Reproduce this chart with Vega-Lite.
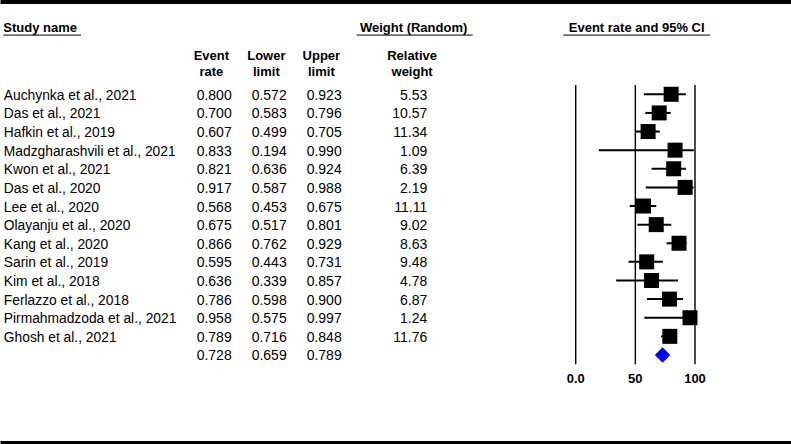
{
  "$schema": "https://vega.github.io/schema/vega-lite/v6.json",
  "width": 791,
  "height": 444,
  "padding": 0,
  "autosize": {"type": "none"},
  "background": "white",
  "config": {
    "view": {"stroke": null},
    "font": "Liberation Sans",
    "text": {"color": "#000000"}
  },
  "datasets": {
    "rows": [
      {"row": "Auchynka et al., 2021", "kind": "study", "er": 0.800, "ll": 0.572, "ul": 0.923, "wt": 5.53},
      {"row": "Das et al., 2021", "kind": "study", "er": 0.700, "ll": 0.583, "ul": 0.796, "wt": 10.57},
      {"row": "Hafkin et al., 2019", "kind": "study", "er": 0.607, "ll": 0.499, "ul": 0.705, "wt": 11.34},
      {"row": "Madzgharashvili et al., 2021", "kind": "study", "er": 0.833, "ll": 0.194, "ul": 0.990, "wt": 1.09},
      {"row": "Kwon et al., 2021", "kind": "study", "er": 0.821, "ll": 0.636, "ul": 0.924, "wt": 6.39},
      {"row": "Das et al., 2020", "kind": "study", "er": 0.917, "ll": 0.587, "ul": 0.988, "wt": 2.19},
      {"row": "Lee et al., 2020", "kind": "study", "er": 0.568, "ll": 0.453, "ul": 0.675, "wt": 11.11},
      {"row": "Olayanju et al., 2020", "kind": "study", "er": 0.675, "ll": 0.517, "ul": 0.801, "wt": 9.02},
      {"row": "Kang et al., 2020", "kind": "study", "er": 0.866, "ll": 0.762, "ul": 0.929, "wt": 8.63},
      {"row": "Sarin et al., 2019", "kind": "study", "er": 0.595, "ll": 0.443, "ul": 0.731, "wt": 9.48},
      {"row": "Kim et al., 2018", "kind": "study", "er": 0.636, "ll": 0.339, "ul": 0.857, "wt": 4.78},
      {"row": "Ferlazzo et al., 2018", "kind": "study", "er": 0.786, "ll": 0.598, "ul": 0.900, "wt": 6.87},
      {"row": "Pirmahmadzoda et al., 2021", "kind": "study", "er": 0.958, "ll": 0.575, "ul": 0.997, "wt": 1.24},
      {"row": "Ghosh et al., 2021", "kind": "study", "er": 0.789, "ll": 0.716, "ul": 0.848, "wt": 11.76},
      {"row": "sum", "kind": "summary", "er": 0.728, "ll": 0.659, "ul": 0.789, "wt": null}
    ],
    "ticks": [
      {"v": 0, "label": "0.0"},
      {"v": 0.5, "label": "50"},
      {"v": 1, "label": "100"}
    ],
    "cols": [
      {"key": "er", "head": "Event\nrate"},
      {"key": "ll", "head": "Lower\nlimit"},
      {"key": "ul", "head": "Upper\nlimit"},
      {"key": "wt", "head": "Relative\nweight"}
    ],
    "heads": [
      {"id": "study", "label": "Study name"},
      {"id": "weight", "label": "Weight (Random)"},
      {"id": "ci", "label": "Event rate and 95% CI"}
    ]
  },
  "resolve": {"scale": {"x": "independent"}, "axis": {"x": "independent"}},
  "layer": [
    {
      "layer": [
        {
          "data": {"name": "rows"},
          "transform": [{"fold": ["er", "ll", "ul"], "as": ["key", "value"]}],
          "mark": {"type": "text", "align": "right", "baseline": "middle", "fontSize": 14, "dy": 1.5},
          "encoding": {
            "x": {
              "field": "key", "type": "nominal", "bandPosition": 1,
              "scale": {"type": "band", "domain": ["c0", "c1", "c2", "er", "ll", "ul", "c6", "wt", "c8", "c9", "c10", "c11", "c12", "c13"], "paddingInner": 0, "paddingOuter": 0.191, "align": 0.557},
              "axis": {"orient": "top", "domain": true, "domainColor": "#000000", "domainWidth": 7, "ticks": false, "labels": false, "grid": false, "title": null}
            },
            "y": {
              "field": "row", "type": "nominal",
              "scale": {
                "type": "band",
                "domain": ["h0", "h1", "h2", "h3",
                  "Auchynka et al., 2021", "Das et al., 2021", "Hafkin et al., 2019", "Madzgharashvili et al., 2021",
                  "Kwon et al., 2021", "Das et al., 2020", "Lee et al., 2020", "Olayanju et al., 2020",
                  "Kang et al., 2020", "Sarin et al., 2019", "Kim et al., 2018", "Ferlazzo et al., 2018",
                  "Pirmahmadzoda et al., 2021", "Ghosh et al., 2021", "sum", "axis", "b1", "b2", "b3"],
                "paddingInner": 0, "paddingOuter": 0.423, "align": 0.667
              },
              "axis": {
                "orient": "left", "domain": false, "ticks": false, "tickSize": 0, "grid": false, "title": null,
                "labelAlign": "left", "labelPadding": -3.3, "labelFont": "Liberation Sans", "labelFontSize": 13.8,
                "labelColor": "#000000", "labelLimit": 400, "labelOverlap": false, "labelBaseline": "middle", "labelOffset": 1.5,
                "labelExpr": "indexof(['h0','h1','h2','h3','sum','axis','b1','b2','b3'], datum.value) >= 0 ? '' : datum.label"
              }
            },
            "text": {"field": "value", "type": "quantitative", "format": ".3f"}
          }
        },
        {
          "data": {"name": "rows"},
          "transform": [{"filter": "isValid(datum.wt)"}],
          "mark": {"type": "text", "align": "right", "baseline": "middle", "fontSize": 14, "dy": 1.5},
          "encoding": {
            "x": {"datum": "wt", "type": "nominal", "bandPosition": 0.556},
            "y": {"field": "row", "type": "nominal"},
            "text": {"field": "wt", "type": "quantitative", "format": ".2f"}
          }
        },
        {
          "data": {"name": "cols"},
          "transform": [{"filter": "datum.key !== 'wt'"}],
          "mark": {"type": "text", "align": "center", "baseline": "middle", "fontSize": 13, "fontWeight": "bold", "lineBreak": "\n", "lineHeight": 16},
          "encoding": {
            "x": {"field": "key", "type": "nominal", "bandPosition": 0.63},
            "y": {"datum": "h2", "type": "nominal", "bandPosition": 0.42},
            "text": {"field": "head", "type": "nominal"}
          }
        },
        {
          "data": {"name": "cols"},
          "transform": [{"filter": "datum.key === 'wt'"}],
          "mark": {"type": "text", "align": "center", "baseline": "middle", "fontSize": 13, "fontWeight": "bold", "lineBreak": "\n", "lineHeight": 16},
          "encoding": {
            "x": {"field": "key", "type": "nominal", "bandPosition": 0.28},
            "y": {"datum": "h2", "type": "nominal", "bandPosition": 0.42},
            "text": {"field": "head", "type": "nominal"}
          }
        }
      ]
    },
    {
      "layer": [
        {
          "data": {"name": "rows"},
          "transform": [{"filter": "datum.kind === 'study'"}],
          "mark": {"type": "rule", "color": "#000000", "strokeWidth": 2},
          "encoding": {
            "x": {
              "field": "ll", "type": "quantitative",
              "scale": {"domain": [-4.8257, 1.8047], "nice": false, "zero": false},
              "axis": {"orient": "bottom", "domain": true, "domainColor": "#000000", "domainWidth": 7, "ticks": false, "labels": false, "grid": false, "title": null}
            },
            "x2": {"field": "ul"},
            "y": {"field": "row", "type": "nominal"}
          }
        },
        {
          "data": {"name": "ticks"},
          "mark": {"type": "rule", "color": "#000000", "strokeWidth": 1.4},
          "encoding": {
            "x": {"field": "v", "type": "quantitative"},
            "y": {"datum": "h3", "type": "nominal", "bandPosition": 1},
            "y2": {"datum": "axis", "bandPosition": 0}
          }
        },
        {
          "data": {"name": "rows"},
          "transform": [{"filter": "datum.kind === 'study'"}],
          "mark": {"type": "square", "color": "#000000", "filled": true, "opacity": 1, "size": 225},
          "encoding": {
            "x": {"field": "er", "type": "quantitative"},
            "y": {"field": "row", "type": "nominal"}
          }
        },
        {
          "data": {"name": "rows"},
          "transform": [{"filter": "datum.kind === 'summary'"}],
          "mark": {"type": "point", "shape": "diamond", "color": "#0000ff", "filled": true, "opacity": 1, "size": 240},
          "encoding": {
            "x": {"field": "er", "type": "quantitative"},
            "y": {"field": "row", "type": "nominal"}
          }
        },
        {
          "data": {"name": "ticks"},
          "mark": {"type": "text", "align": "center", "baseline": "middle", "fontSize": 13, "fontWeight": "bold", "dy": 1},
          "encoding": {
            "x": {"field": "v", "type": "quantitative"},
            "y": {"datum": "axis", "type": "nominal", "bandPosition": 0.75},
            "text": {"field": "label", "type": "nominal"}
          }
        },
        {
          "data": {"name": "heads"},
          "transform": [{"filter": "datum.id === 'study'"}],
          "mark": {"type": "text", "align": "left", "baseline": "middle", "fontSize": 13, "fontWeight": "bold", "dy": 0.3},
          "encoding": {
            "x": {"datum": -4.798, "type": "quantitative"},
            "y": {"datum": "h0", "type": "nominal", "bandPosition": 0.95},
            "text": {"field": "label", "type": "nominal"}
          }
        },
        {
          "data": {"name": "heads"},
          "transform": [{"filter": "datum.id === 'weight'"}],
          "mark": {"type": "text", "align": "center", "baseline": "middle", "fontSize": 13, "fontWeight": "bold", "dy": 0.3},
          "encoding": {
            "x": {"datum": -1.3588, "type": "quantitative"},
            "y": {"datum": "h0", "type": "nominal", "bandPosition": 0.95},
            "text": {"field": "label", "type": "nominal"}
          }
        },
        {
          "data": {"name": "heads"},
          "transform": [{"filter": "datum.id === 'ci'"}],
          "mark": {"type": "text", "align": "center", "baseline": "middle", "fontSize": 13, "fontWeight": "bold", "dy": 0.3},
          "encoding": {
            "x": {"datum": 0.5113, "type": "quantitative"},
            "y": {"datum": "h0", "type": "nominal", "bandPosition": 0.95},
            "text": {"field": "label", "type": "nominal"}
          }
        },
        {
          "data": {"name": "heads"},
          "transform": [{"filter": "datum.id === 'study'"}],
          "mark": {"type": "rule", "color": "#000000", "strokeWidth": 1},
          "encoding": {
            "x": {"datum": -4.798, "type": "quantitative"},
            "x2": {"datum": -4.147},
            "y": {"datum": "h1", "type": "nominal", "bandPosition": 0.32}
          }
        },
        {
          "data": {"name": "heads"},
          "transform": [{"filter": "datum.id === 'weight'"}],
          "mark": {"type": "rule", "color": "#000000", "strokeWidth": 1},
          "encoding": {
            "x": {"datum": -1.8357, "type": "quantitative"},
            "x2": {"datum": -0.8634},
            "y": {"datum": "h1", "type": "nominal", "bandPosition": 0.32}
          }
        },
        {
          "data": {"name": "heads"},
          "transform": [{"filter": "datum.id === 'ci'"}],
          "mark": {"type": "rule", "color": "#000000", "strokeWidth": 1},
          "encoding": {
            "x": {"datum": -0.1039, "type": "quantitative"},
            "x2": {"datum": 1.1257},
            "y": {"datum": "h1", "type": "nominal", "bandPosition": 0.32}
          }
        }
      ]
    }
  ]
}
